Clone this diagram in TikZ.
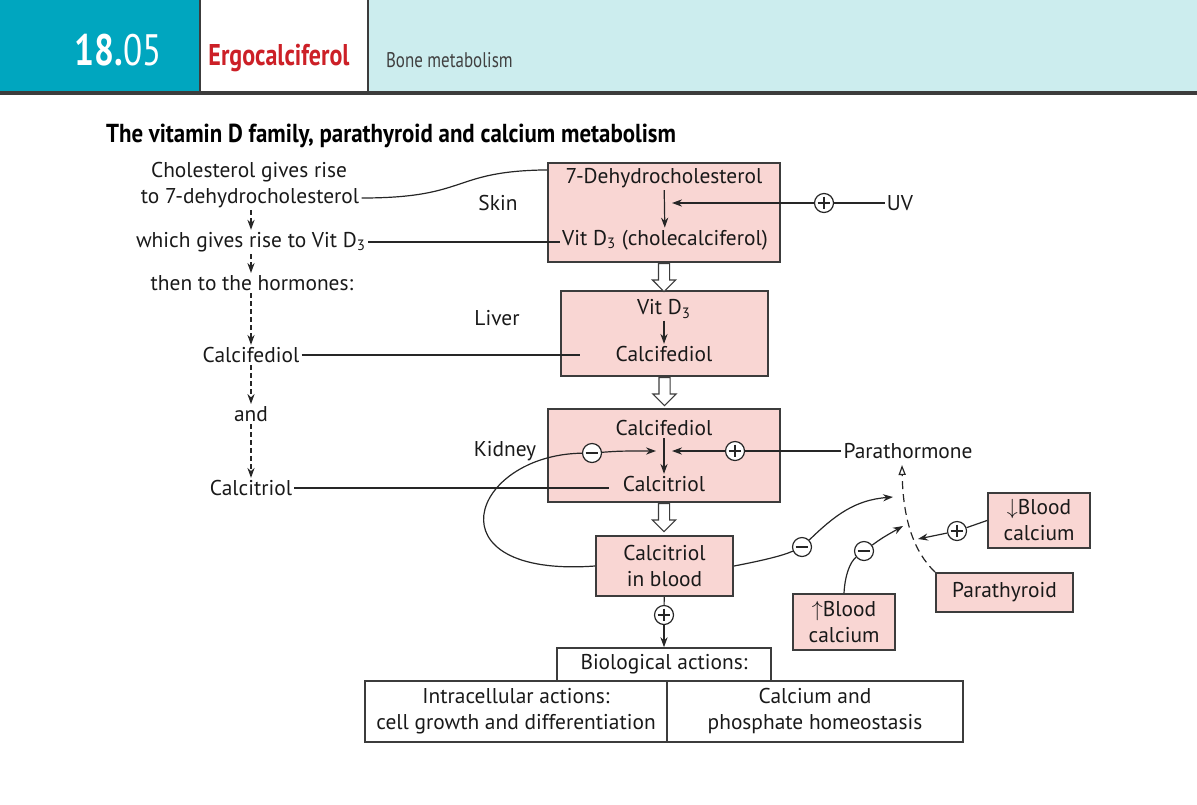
\documentclass[tikz,border=0pt]{standalone}
\usepackage{fontspec}
\setmainfont{PT Sans}
\newfontfamily\narrowfont[FakeStretch=0.8]{PT Sans}
\newfontfamily\titlefont[FakeStretch=0.88]{PT Sans}
\usetikzlibrary{arrows.meta,positioning,shapes.arrows}
\definecolor{boxpink}{RGB}{249,214,211}
\definecolor{headteal}{RGB}{0,166,191}
\definecolor{headcyan}{RGB}{204,237,238}
\definecolor{chapred}{RGB}{204,32,39}
\definecolor{edgegray}{RGB}{60,60,60}
\newcommand{\vitd}{Vit D\textsubscript{3}}
\tikzset{
  basic/.style  = {font=\fontsize{10.7}{13}\selectfont, inner sep=1pt, align=center, text=black!90},
  organ/.style  = {draw=edgegray, fill=boxpink, line width=1pt, rectangle, inner sep=0pt},
  plain/.style  = {basic, draw=edgegray, line width=0.8pt, rectangle, inner sep=0pt},
  sign/.style   = {circle, draw=black!85, fill=white, line width=0.6pt, minimum size=9.5pt, inner sep=0pt},
  plus/.style   = {sign, path picture={
                     \draw[line width=0.6pt] ([xshift=1.6pt]path picture bounding box.west) -- ([xshift=-1.6pt]path picture bounding box.east)
                       ([yshift=-1.6pt]path picture bounding box.north) -- ([yshift=1.6pt]path picture bounding box.south);}},
  minus/.style  = {sign, path picture={
                     \draw[line width=0.6pt] ([xshift=1.6pt]path picture bounding box.west) -- ([xshift=-1.6pt]path picture bounding box.east);}},
  hollow/.style = {single arrow, draw=edgegray, fill=white, line width=0.6pt, shape border rotate=270,
                   minimum height=14pt, minimum width=11pt, inner sep=2.5pt, single arrow head extend=3pt},
  wire/.style   = {line width=0.6pt, draw=black!85},
  flow/.style   = {wire, ->},
  trace/.style  = {wire, dash pattern=on 2.5pt off 1.5pt, ->}
}

\begin{document}
\begin{tikzpicture}[x=0.5pt, y=-0.5pt, >={Stealth[length=5pt,width=3.6pt]}]
\useasboundingbox (0,0) rectangle (1197,804);

% bandeau
\fill[headteal] (0,0) rectangle (200,93);
\fill[headcyan] (368,0) rectangle (1197,93);
\draw[edgegray, line width=1pt] (200,0) -- (200,93) (368,0) -- (368,93);
\draw[edgegray, line width=1.6pt] (0,93) -- (1197,93);
\node[text=white, font=\narrowfont\fontsize{22}{24}\selectfont] (num) at (118,50) {\textbf{18.}05};
\node[text=chapred, font=\narrowfont\bfseries\fontsize{15}{18}\selectfont] (chap) at (279,58) {Ergocalciferol};
\node[anchor=west, text=black!75, font=\narrowfont\fontsize{10.6}{13}\selectfont] (topic) at (379,60) {Bone metabolism};
\node[anchor=west, font=\titlefont\bfseries\fontsize{13}{15}\selectfont] (title) at (99,136) {The vitamin D family, parathyroid and calcium metabolism};

% colonne de gauche
\begin{scope}[every node/.style={basic}]
\node (cholA) at (249,172) {Cholesterol gives rise};
\node (cholB) at (250,198) {to 7-dehydrocholesterol};
\node (gives) at (251,242) {which gives rise to \vitd};
\node (then)  at (252,283) {then to the hormones:};
\node (cfd)   at (251,355) {Calcifediol};
\node (and)   at (251,414) {and};
\node (ctr)   at (251,488) {Calcitriol};

\node (skinlbl)   at (498,203) {Skin};
\node (liverlbl)  at (497,318) {Liver};
\node (kidneylbl) at (505,451) {Kidney};
\end{scope}

% organes
\node[organ, minimum width=116pt, minimum height=49.5pt] (skin)   at (664,212.5) {};
\node[organ, minimum width=103.5pt, minimum height=42.5pt] (liver) at (664.5,333.5) {};
\node[organ, minimum width=116pt, minimum height=46.5pt] (kidney) at (664,455.5) {};
\node[organ, basic, minimum width=68.5pt, minimum height=30pt] (blood) at (664.5,566) {Calcitriol\\in blood};

\node[hollow, below=0pt of skin]   (h1) {};
\node[hollow, below=0pt of liver]  (h2) {};
\node[hollow, below=0pt of kidney] (h3) {};

\begin{scope}[every node/.style={basic}]
\node (dhc)  at (664,178) {7-Dehydrocholesterol};
\node (vd3)  at (665,240) {\vitd{} (cholecalciferol)};
\node (vdl)  at (664,309) {\vitd};
\node (cfdl) at (664,354) {Calcifediol};
\node (cfdk) at (664,428) {Calcifediol};
\node (ctrk) at (664,484) {Calcitriol};
\node (uv)   at (900,203) {UV};
\node (pth)  at (908,451) {Parathormone};
\end{scope}
\coordinate (uvjoin) at (664,203);
\coordinate (kjoin)  at (664,451);

\node[plus]  (uvp) at (824,203) {};
\node[plus]  (kp)  at (735,451) {};
\node[minus] (km)  at (592,453) {};
\node[plus]  (bp)  at (664,615) {};
\node[minus] (bm)  at (802,547) {};

% glande et calcemie
\node[organ, basic, minimum width=51pt, minimum height=27.5pt] (dblood) at (1039,520.5) {$\downarrow$Blood\\calcium};
\node[organ, basic, minimum width=68.5pt, minimum height=19.5pt] (pthy) at (1004.5,592.5) {Parathyroid};
\node[organ, basic, minimum width=51pt, minimum height=28pt] (ublood) at (844,622) {$\uparrow$Blood\\calcium};
\node[plus]  (dp) at (957,531) {};
\node[minus] (um) at (864,551) {};
\coordinate (ptipA) at (893,497);
\coordinate (ptipB) at (903,526);
\coordinate (ptipC) at (918,539);
\coordinate (pthtip) at (902,465);

% actions
\node[plain, minimum width=107pt, minimum height=16.5pt] (bio) at (664,664.5) {Biological actions:};
\node[plain, minimum width=151pt, minimum height=30.5pt] (intra) at (516,711.5) {Intracellular actions:\\cell growth and differentiation};
\node[plain, minimum width=148pt, minimum height=30.5pt] (homeo) at (815,711.5) {Calcium and\\phosphate homeostasis};

% fleches de la colonne de gauche
\foreach \a/\b in {cholB/gives, gives/then, then/cfd, cfd/and, and/ctr}
  \draw[trace] (\a.south -| cfd) -- (\b.north -| cfd);

\draw[wire] (cholB.east) .. controls (470,198) and (450,171) .. (skin.160);
\draw[wire] (gives.east) -- (gives.east -| vd3.west);
\draw[wire] (cfd.east) -- ([xshift=10pt]cfd.east -| liver.west);
\draw[wire] (ctr.east) -- ([xshift=-6pt]ctr.east -| ctrk.west);

% dans les organes
\draw[flow] (dhc) -- (vd3);
\draw[flow] (vdl) -- (cfdl);
\draw[flow] (cfdk) -- (ctrk);
\draw[wire] (uv) -- (uvp);
\draw[flow] (uvp) -- ([xshift=4pt]uvjoin);
\draw[wire] (pth) -- (kp);
\draw[flow] (kp) -- ([xshift=4pt]kjoin);
\draw[flow] (km) .. controls (620,451) .. ([xshift=-4pt]kjoin);
\draw[wire] (blood.west) .. controls (428,578) and (470,455) .. (km);

% retroactions
\draw[wire] (blood.east) .. controls (760,561) and (782,556) .. (bm);
\draw[flow] (bm) .. controls (835,515) and (855,500) .. (ptipA);
\draw[wire] (ublood.north) .. controls (845,575) and (850,562) .. (um);
\draw[flow] (um) .. controls (882,538) .. (ptipB);
\draw[wire] (dblood.west) -- (dp);
\draw[flow] (dp) -- (ptipC);
\draw[wire, dash pattern=on 4pt off 2.5pt, -{Triangle[open,length=5pt,width=3.6pt]}] (pthy.north west) .. controls (914,552) and (903,520) .. (pthtip);

\draw[wire] (blood) -- (bp);
\draw[flow] (bp) -- (bio);

\end{tikzpicture}
\end{document}
